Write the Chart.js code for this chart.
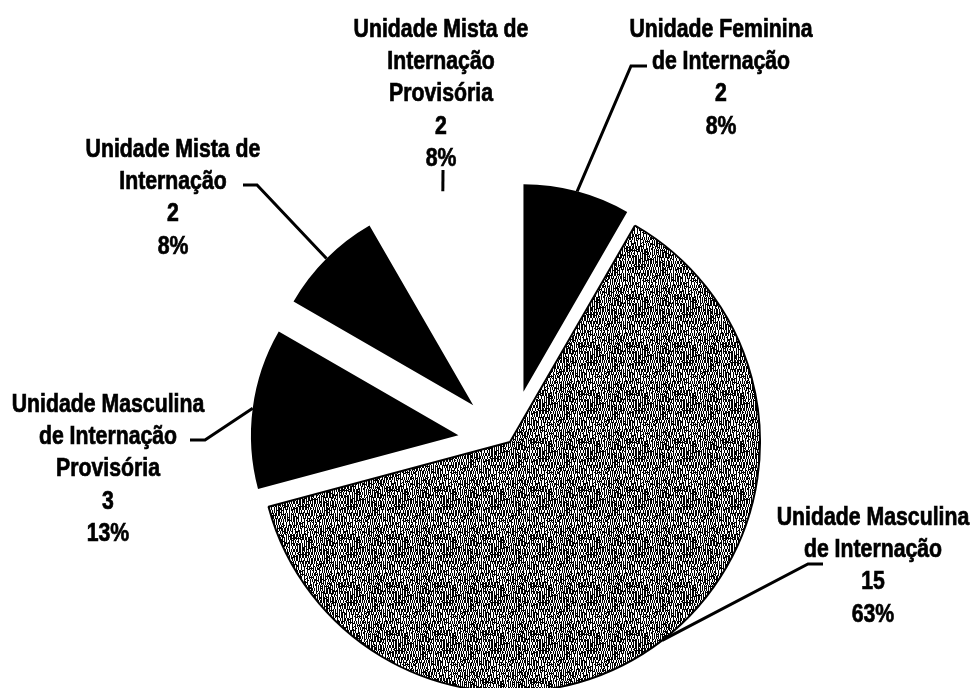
<!DOCTYPE html>
<html lang="pt-BR">
<head>
<meta charset="utf-8">
<title>Unidades de Internação</title>
<script src="https://cdn.jsdelivr.net/npm/chart.js@4.4.1/dist/chart.umd.min.js"></script>
<style>
  html, body { margin: 0; padding: 0; background: #fff; }
  #grafico { display: block; }
</style>
</head>
<body>
<canvas id="grafico" width="976" height="688"></canvas>
<script>
// nomes das unidades, já quebrados nas linhas do rótulo
var unidades = [
  ["Unidade Feminina", "de Internação"],
  ["Unidade Masculina", "de Internação"],
  ["Unidade Masculina", "de Internação", "Provisória"],
  ["Unidade Mista de", "Internação"],
  ["Unidade Mista de", "Internação", "Provisória"]
];
var quantidades = [2, 15, 3, 2, 2];

// aparência de cada fatia
var destaque = [52, 0, 52, 52, 52];           // quanto a fatia sai do centro
var escalaRaio = [0.83, 1, 0.83, 0.83, 0.83]; // fatias destacadas são menores
var larguraBorda = [0, 2, 0, 0, 0];

// posição dos rótulos e pontos da linha guia (do texto até a fatia)
var rotulos = [
  { x: 721, base: 37,  guia: [[647, 66], [631, 66]] },
  { x: 873, base: 525, guia: [[823, 564], [808, 564]] },
  { x: 108, base: 412, guia: [[190, 440], [205, 440]] },
  { x: 173, base: 157, guia: [[243, 185], [257, 185]] },
  { x: 441, base: 37,  guia: [[443, 170]] }
];
var entreLinhas = 32.2;

var canvas = document.getElementById('grafico');
var ctx = canvas.getContext('2d');

// hash simples para a granulação da textura
function mistura(a, b) {
  var h = (a * 374761393 + b * 668265263) | 0;
  h = (h ^ (h >>> 13)) * 1274126177 | 0;
  return (h ^ (h >>> 16)) >>> 0;
}

// textura cinza de riscos verticais da fatia maior
function texturaCinza() {
  var n = 48;
  var t = document.createElement('canvas');
  t.width = n; t.height = n;
  var c = t.getContext('2d');
  c.fillStyle = '#fff';
  c.fillRect(0, 0, n, n);
  c.fillStyle = '#000';
  for (var y = 0; y < n; y++) {
    for (var x = 0; x < n; x++) {
      var s = mistura(Math.floor(x / 3), Math.floor(y / 3)) % 2;
      var preto = (x + s) % 2 === 0;
      if (!preto && mistura(x + 101, y + 57) % 6 === 0) preto = true;
      if (preto) c.fillRect(x, y, 1, 1);
    }
  }
  return ctx.createPattern(t, 'repeat');
}

var cores = ['#000000', texturaCinza(), '#000000', '#000000', '#ffffff'];

// afasta as fatias do centro e ajusta o raio de cada uma
var explodir = {
  id: 'explodir',
  afterDatasetsUpdate: function (chart) {
    var meta = chart.getDatasetMeta(0);
    var area = chart.chartArea;
    var cx = (area.left + area.right) / 2;
    var cy = (area.top + area.bottom) / 2;
    var raio = meta.controller.outerRadius;
    meta.data.forEach(function (arco, i) {
      var meio = (arco.startAngle + arco.endAngle) / 2;
      arco.x = cx + Math.cos(meio) * destaque[i];
      arco.y = cy + Math.sin(meio) * destaque[i];
      arco.outerRadius = raio * escalaRaio[i];
    });
  }
};

// rótulos com nome, quantidade e percentual
var rotular = {
  id: 'rotular',
  afterDraw: function (chart) {
    var c = chart.ctx;
    var meta = chart.getDatasetMeta(0);
    var total = quantidades.reduce(function (a, b) { return a + b; }, 0);
    meta.data.forEach(function (arco, i) {
      var meio = (arco.startAngle + arco.endAngle) / 2;
      var ax = arco.x + Math.cos(meio) * arco.outerRadius;
      var ay = arco.y + Math.sin(meio) * arco.outerRadius;
      var r = rotulos[i];

      c.save();
      c.strokeStyle = '#000';
      c.lineWidth = 3;
      c.beginPath();
      c.moveTo(r.guia[0][0], r.guia[0][1]);
      for (var k = 1; k < r.guia.length; k++) c.lineTo(r.guia[k][0], r.guia[k][1]);
      c.lineTo(ax, ay);
      c.stroke();

      var linhas = unidades[i].concat([
        String(quantidades[i]),
        Math.round(quantidades[i] / total * 100) + '%'
      ]);
      c.fillStyle = '#000';
      c.lineWidth = 0.7;
      c.font = 'bold 25px "Liberation Sans", Arial, sans-serif';
      c.textAlign = 'center';
      c.textBaseline = 'alphabetic';
      linhas.forEach(function (txt, n) {
        c.save();
        c.translate(r.x, r.base + n * entreLinhas);
        c.scale(0.85, 1);
        c.fillText(txt, 0, 0);
        c.strokeText(txt, 0, 0);
        c.restore();
      });
      c.restore();
    });
  }
};

new Chart(canvas, {
  type: 'pie',
  data: {
    labels: unidades.map(function (u) { return u.join(' '); }),
    datasets: [{
      data: quantidades,
      backgroundColor: cores,
      borderColor: '#000000',
      borderWidth: larguraBorda,
      clip: false
    }]
  },
  options: {
    responsive: false,
    animation: false,
    events: [],
    radius: 250,
    layout: { padding: { left: 44, right: 0, top: 196, bottom: 0 } },
    plugins: {
      legend: { display: false },
      tooltip: { enabled: false }
    }
  },
  plugins: [explodir, rotular]
});
</script>
</body>
</html>
